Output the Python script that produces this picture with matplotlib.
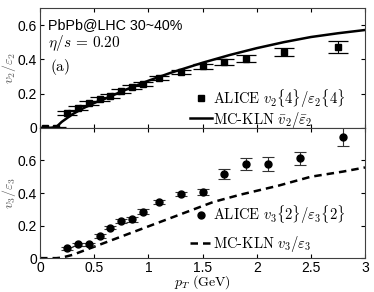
import matplotlib
matplotlib.use("Agg")
import matplotlib.pyplot as plt
from matplotlib.lines import Line2D
import numpy as np

plt.rcParams['font.family'] = ['Liberation Sans', 'DejaVu Sans']
plt.rcParams['mathtext.fontset'] = 'cm'

# ALICE v2{4}/eps2{4}
pt2 = [0.05, 0.15, 0.25, 0.35, 0.45, 0.55, 0.65, 0.75, 0.85, 0.95, 1.1, 1.3, 1.5, 1.7, 1.9, 2.25, 2.75]
v2 = [0.0, 0.0, 0.086, 0.115, 0.144, 0.167, 0.185, 0.215, 0.24, 0.258, 0.29, 0.326, 0.36, 0.384, 0.404, 0.444, 0.472]
v2_err = [0.008, 0.008, 0.012, 0.012, 0.012, 0.012, 0.012, 0.012, 0.012, 0.012, 0.012, 0.012, 0.015, 0.017, 0.02, 0.022, 0.035]

# MC-KLN v2/eps2
pt_kln2 = [0.0, 0.1, 0.15, 0.2, 0.3, 0.4, 0.5, 0.6, 0.8, 1.0, 1.2, 1.5, 1.75, 2.0, 2.25, 2.5, 2.75, 3.0]
kln2 = [0.0, 0.0, 0.005, 0.035, 0.08, 0.115, 0.145, 0.17, 0.225, 0.275, 0.32, 0.38, 0.425, 0.465, 0.5, 0.53, 0.552, 0.571]

# ALICE v3{2}/eps3{2}
pt3 = [0.25, 0.35, 0.45, 0.55, 0.65, 0.75, 0.85, 0.95, 1.1, 1.3, 1.5, 1.7, 1.9, 2.1, 2.4, 2.8]
v3 = [0.06, 0.086, 0.084, 0.135, 0.188, 0.227, 0.239, 0.284, 0.345, 0.394, 0.406, 0.518, 0.58, 0.578, 0.614, 0.747]
v3_err = [0.01, 0.01, 0.01, 0.012, 0.012, 0.012, 0.014, 0.015, 0.015, 0.015, 0.02, 0.03, 0.038, 0.045, 0.04, 0.06]

# MC-KLN v3/eps3
pt_kln3 = [0.0, 0.1, 0.15, 0.2, 0.3, 0.4, 0.5, 0.6, 0.8, 1.0, 1.2, 1.4, 1.6, 1.85, 2.2, 2.5, 2.8, 3.0]
kln3 = [0.0, 0.0, 0.0, 0.003, 0.02, 0.045, 0.07, 0.095, 0.145, 0.195, 0.245, 0.295, 0.345, 0.39, 0.445, 0.5, 0.532, 0.557]

fig = plt.figure(figsize=(3.74, 2.92), dpi=100)
ax1 = fig.add_axes([0.107, 0.562, 0.869, 0.411])
ax2 = fig.add_axes([0.107, 0.116, 0.869, 0.446], sharex=ax1)

# panel (a)
ax1.plot(pt_kln2, kln2, color='black', lw=1.8)
eb = ax1.errorbar(pt2, v2, yerr=v2_err, fmt='s', color='black', ms=4.5, ecolor='black',
                  elinewidth=0.8, capsize=7, capthick=0.9)
for cl in eb[1]:
    cl.set_color('0.5')
ax1.set_ylim(0, 0.7)
ax1.set_yticks([0, 0.2, 0.4, 0.6])
ax1.set_yticklabels(['0', '0.2', '0.4', '0.6'])
ax1.set_ylabel(r'$v_2/\varepsilon_2$', color='0.35', fontsize=10, labelpad=0)
ax1.text(0.075, 0.6, 'PbPb@LHC 30~40%', fontsize=10.3, va='center')
ax1.text(0.075, 0.495, r'$\eta/s\,=\,0.20$', fontsize=11, va='center')
ax1.text(0.09, 0.355, r'$(\mathrm{a})$', fontsize=11, va='center')
h1 = [Line2D([], [], ls='none', marker='s', ms=4.5, color='black'),
      Line2D([], [], color='black', lw=1.8)]
l1 = [r'$\mathrm{ALICE}\ v_2\{4\}/\varepsilon_2\{4\}$', r'$\text{MC-KLN}\ \bar{v}_2/\bar{\varepsilon}_2$']
ax1.legend(h1, l1, loc='center right', bbox_to_anchor=(0.94, 0.165), frameon=False,
           fontsize=10.5, handlelength=1.5, handletextpad=0.1, labelspacing=0.0,
           borderpad=0, borderaxespad=0)
plt.setp(ax1.get_xticklabels(), visible=False)

# panel (b)
ax2.plot(pt_kln3, kln3, color='black', lw=1.8, ls=(0, (3, 2)))
ax2.errorbar(pt3, v3, yerr=v3_err, fmt='o', color='black', ms=5, ecolor='0.2',
             elinewidth=0.8, capsize=4, capthick=0.8)
ax2.set_ylim(0, 0.8)
ax2.set_yticks([0, 0.2, 0.4, 0.6])
ax2.set_yticklabels(['0', '0.2', '0.4', '0.6'])
ax2.set_xlim(0, 3)
ax2.set_xticks([0, 0.5, 1, 1.5, 2, 2.5, 3])
ax2.set_xticklabels(['0', '0.5', '1', '1.5', '2', '2.5', '3'])
ax2.set_ylabel(r'$v_3/\varepsilon_3$', color='0.35', fontsize=10, labelpad=0)
ax2.set_xlabel(r'$p_T\ (\mathrm{GeV})$', fontsize=10, labelpad=-1)
h2 = [Line2D([], [], ls='none', marker='o', ms=5, color='black'),
      Line2D([], [], color='black', lw=1.8, ls=(0, (3, 2)))]
l2 = [r'$\mathrm{ALICE}\ v_3\{2\}/\varepsilon_3\{2\}$', r'$\text{MC-KLN}\ v_3/\varepsilon_3$']
ax2.legend(h2, l2, loc='center right', bbox_to_anchor=(0.94, 0.227), frameon=False,
           fontsize=10.5, handlelength=1.5, handletextpad=0.1, labelspacing=0.6,
           borderpad=0, borderaxespad=0)

for ax in (ax1, ax2):
    ax.tick_params(direction='in', top=True, right=True, labelsize=10, length=3, pad=2)
    for s in ax.spines.values():
        s.set_color('0.25')

fig.savefig('out.png', dpi=100)
